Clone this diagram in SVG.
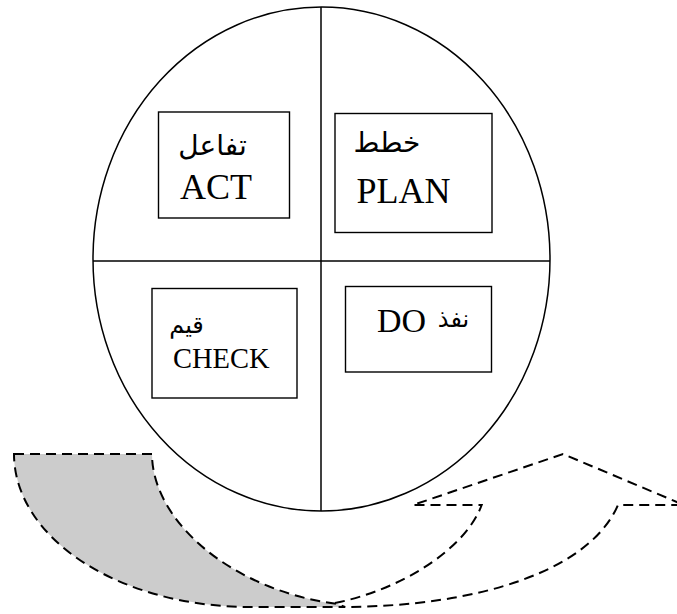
<svg xmlns="http://www.w3.org/2000/svg" width="677" height="614" viewBox="0 0 677 614">
<style>
.frame{fill:none;stroke:#000;stroke-width:1.5}
.box{fill:#fff;stroke:#000;stroke-width:1.4}
.en{font-family:"Liberation Serif","Times New Roman",serif;fill:#000}
.ar{font-family:"DejaVu Sans","Noto Sans",sans-serif;fill:#000;text-anchor:middle}
.dash{stroke:#000;stroke-width:2;stroke-dasharray:10 6;stroke-linejoin:miter}
</style>
<rect width="677" height="614" fill="#fff"/>
<g id="connectors">
  <path class="dash" fill="#cccccc" d="M14,454 H152 C152,520 230,590 337,604 L345,607 H250 A236,153 0 0 1 14,454 Z"/>
  <path class="dash" fill="none" d="M335,603 C400,590 465,550 481.7,505 H413 L563,454 L684,505 H618 C590,570 480,607 340,607"/>
</g>
<g id="cycle">
  <ellipse class="frame" cx="321.5" cy="259" rx="228.5" ry="252"/>
  <line class="frame" x1="321" y1="7" x2="321" y2="511"/>
  <line class="frame" x1="93" y1="261" x2="550" y2="261"/>
</g>
<g id="node-act">
  <rect class="box" x="158.5" y="112" width="131" height="106"/>
  <text class="ar" x="212.5" y="155" font-size="28">تفاعل</text>
  <text class="en" x="180" y="199" font-size="36">ACT</text>
</g>
<g id="node-plan">
  <rect class="box" x="335" y="113.5" width="157" height="119"/>
  <text class="ar" x="387" y="152" font-size="28">خطط</text>
  <text class="en" x="356.5" y="203" font-size="36">PLAN</text>
</g>
<g id="node-check">
  <rect class="box" x="152" y="288.5" width="145" height="109.5"/>
  <text class="ar" x="186.5" y="333" font-size="24">قيم</text>
  <text class="en" x="173" y="368" font-size="28.5">CHECK</text>
</g>
<g id="node-do">
  <rect class="box" x="345.5" y="286.5" width="146" height="85.5"/>
  <text class="en" x="377" y="331.5" font-size="34">DO</text>
  <text class="ar" x="453.5" y="327" font-size="24">نفذ</text>
</g>
</svg>
